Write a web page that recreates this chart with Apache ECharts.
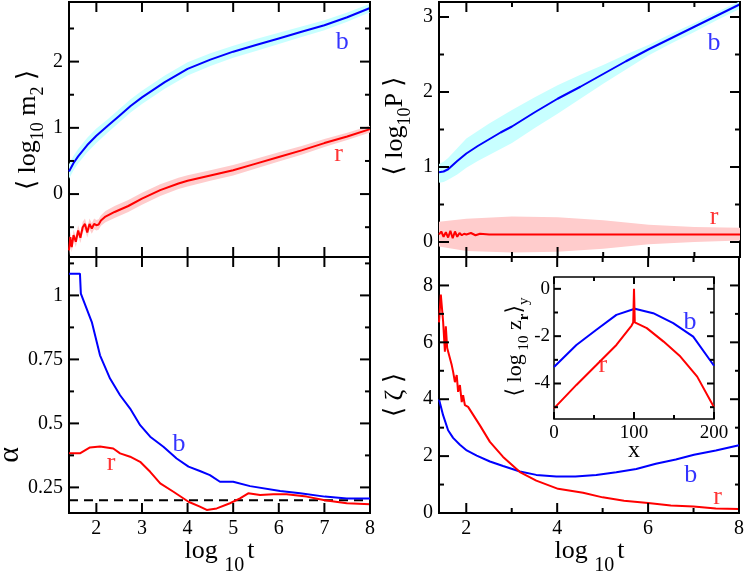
<!DOCTYPE html>
<html><head><meta charset="utf-8">
<script src="https://cdn.jsdelivr.net/npm/echarts@6/dist/echarts.min.js"></script>
<style>html,body{margin:0;padding:0;background:#fff}#c{width:747px;height:574px}</style>
</head><body><div id="c"></div>
<script>
// ---------- Panel (a): <log10 m2> ----------
const tM2b = [1.4,1.5,1.6,1.8,2.0,2.25,2.5,2.75,3.0,3.5,4.0,4.5,5.0,5.5,6.0,6.5,7.0,7.5,8.0];
const m2b  = [0.34,0.47,0.57,0.74,0.88,1.03,1.18,1.33,1.46,1.69,1.89,2.03,2.15,2.25,2.35,2.45,2.55,2.67,2.81];
const m2bW = [0.11,0.11,0.11,0.11,0.11,0.10,0.10,0.10,0.10,0.10,0.10,0.095,0.09,0.09,0.085,0.08,0.075,0.07,0.065];
const tM2r = [1.4,1.43,1.46,1.5,1.55,1.6,1.65,1.7,1.75,1.8,1.85,1.9,1.95,2.0,2.05,2.1,2.2,2.4,2.7,3.0,3.4,3.8,4.0,4.5,5.0,5.5,6.0,6.5,7.0,7.5,8.0];
const m2r  = [-0.85,-0.65,-0.8,-0.62,-0.72,-0.55,-0.66,-0.5,-0.45,-0.58,-0.45,-0.52,-0.45,-0.47,-0.46,-0.4,-0.34,-0.27,-0.18,-0.07,0.06,0.16,0.2,0.28,0.36,0.46,0.56,0.66,0.77,0.87,0.98];
const m2rW = [0.08,0.08,0.08,0.08,0.08,0.08,0.08,0.08,0.08,0.08,0.08,0.08,0.08,0.08,0.08,0.08,0.085,0.09,0.09,0.09,0.09,0.085,0.085,0.08,0.08,0.075,0.07,0.065,0.06,0.055,0.05];

// ---------- Panel (b): <log10 P> ----------
const tPb  = [1.4,1.5,1.6,1.8,2.0,2.25,2.5,2.75,3.0,3.5,4.0,4.5,5.0,5.5,6.0,6.5,7.0,7.5,8.0];
const Pb   = [0.93,0.94,0.97,1.08,1.18,1.28,1.37,1.46,1.54,1.73,1.91,2.07,2.24,2.41,2.57,2.72,2.87,3.02,3.17];
const PbLo = [0.79,0.80,0.83,0.90,0.99,1.08,1.16,1.24,1.32,1.52,1.71,1.91,2.11,2.30,2.49,2.65,2.80,2.96,3.11];
const PbHi = [1.04,1.07,1.12,1.25,1.38,1.48,1.58,1.67,1.76,1.93,2.09,2.23,2.36,2.50,2.63,2.78,2.92,3.07,3.21];
const tPr  = [1.4,1.45,1.5,1.55,1.6,1.65,1.7,1.75,1.8,1.85,1.9,1.95,2.0,2.1,2.2,2.3,2.5,3,4,5,6,7,8];
const Pr   = [0.1,0.14,0.07,0.13,0.06,0.15,0.05,0.14,0.07,0.12,0.09,0.11,0.1,0.12,0.09,0.11,0.1,0.1,0.1,0.1,0.1,0.1,0.1];
const tPrBand = [1.4,2,3,4,5,6,7,8];
const PrLo = [-0.06,-0.12,-0.14,-0.13,-0.09,-0.03,0.0,0.02];
const PrHi = [0.27,0.31,0.34,0.33,0.29,0.23,0.2,0.19];

// ---------- Panel (c): alpha ----------
const tAb = [1.4,1.64,1.66,1.9,2.08,2.3,2.52,2.74,2.96,3.18,3.47,3.76,4.02,4.27,4.49,4.71,5.0,5.37,6.03,6.47,7.01,7.49,8.0];
const Ab  = [1.085,1.085,1.007,0.896,0.766,0.675,0.61,0.558,0.493,0.448,0.409,0.363,0.331,0.314,0.298,0.272,0.272,0.255,0.236,0.227,0.214,0.207,0.207];
const tAr = [1.4,1.64,1.86,2.08,2.37,2.52,2.74,2.96,3.18,3.4,3.69,4.02,4.27,4.42,4.64,4.93,5.15,5.33,5.59,5.88,6.17,6.61,7.01,7.49,8.0];
const Ar  = [0.383,0.383,0.406,0.41,0.402,0.383,0.37,0.35,0.311,0.266,0.233,0.194,0.175,0.162,0.168,0.188,0.207,0.227,0.22,0.223,0.223,0.214,0.2,0.188,0.184];
const dashX = [1.4,8];
const dashY = [0.2,0.2];

// ---------- Panel (d): <zeta> ----------
const tZb = [1.4,1.49,1.6,1.71,1.86,2.01,2.23,2.52,2.81,3.18,3.54,3.98,4.4,4.86,5.3,5.74,6.17,6.61,7.01,7.49,8.0];
const Zb  = [4.0,3.44,2.91,2.64,2.4,2.2,2.02,1.81,1.65,1.46,1.34,1.28,1.28,1.34,1.43,1.55,1.73,1.88,2.05,2.2,2.38];
const tZr = [1.4,1.44,1.49,1.53,1.55,1.58,1.63,1.68,1.71,1.75,1.79,1.82,1.86,1.9,1.93,1.97,2.04,2.3,2.52,2.81,3.18,3.54,4.02,4.57,5.0,5.47,6.0,6.5,7.0,7.49,8.0];
const Zr  = [6.7,7.68,6.74,5.67,6.56,5.8,5.5,5.2,4.97,4.6,4.85,4.26,4.5,3.9,4.14,3.79,3.73,3.08,2.5,1.97,1.44,1.14,0.85,0.71,0.55,0.43,0.35,0.26,0.23,0.16,0.14];

// ---------- Inset: <log10 z_r>_y ----------
const xIb = [0,28,53,78,101,124,149,174,200];
const Ib  = [-3.3,-2.37,-1.73,-1.1,-0.84,-1.03,-1.45,-2.02,-3.25];
const xIr = [0,28,53,78,97,99,100,101,116,137,158,179,200];
const Ir  = [-5.05,-4.06,-3.22,-2.37,-1.55,-1.42,0,-1.42,-1.66,-2.23,-2.86,-3.71,-5.0];

// ---------- Ticks ----------
const tickX8 = [2,3,4,5,6,7,8];
const tickX2 = [2,4,6,8];
const minorX2 = [3,5,7];
const tickYm2 = [0,1,2];       const minorYm2 = [-0.5,0.5,1.5,2.5];
const tickYP = [0,1,2,3];      const minorYP = [0.5,1.5,2.5];
const tickYA = [0.25,0.5,0.75,1]; const minorYA = [0.375,0.625,0.875,1.125];
const tickYZ = [0,2,4,6,8];    const minorYZ = [1,3,5,7];
const tickXI = [0,100,200];    const minorXI = [50,150];
const tickYI = [-4,-2,0];      const minorYI = [-5,-3,-1];

// ---------- Curve tags ----------
const tags = [
  {g:0, t:'b', c:'#0000ff', x:7.39, y:2.30},
  {g:0, t:'r', c:'#ff0000', x:7.31, y:0.60},
  {g:1, t:'b', c:'#0000ff', x:7.43, y:2.65},
  {g:1, t:'r', c:'#ff0000', x:7.43, y:0.33},
  {g:2, t:'b', c:'#0000ff', x:3.81, y:0.42},
  {g:2, t:'r', c:'#ff0000', x:2.32, y:0.344},
  {g:3, t:'b', c:'#0000ff', x:6.94, y:1.32},
  {g:3, t:'r', c:'#ff0000', x:7.53, y:0.55},
  {g:4, t:'b', c:'#0000ff', x:170, y:-1.41},
  {g:4, t:'r', c:'#ff0000', x:61, y:-3.22}
];

const FONT = 'Liberation Serif, DejaVu Serif, serif';
const BLUE = '#0000ff', RED = '#ff0000', CYAN = '#c8ffff', PINK = '#ffcccc';

const grids = [
  {left:69, top:2, width:301, height:255},
  {left:439, top:2, width:301, height:255},
  {left:69, top:257, width:301, height:256},
  {left:439, top:257, width:301, height:256},
  {left:554, top:277, width:160, height:142}
];
const panelCfg = [
  {x:[1.4,8], y:[-0.95,2.9], xt:tickX8, xm:[], yt:tickYm2, ym:minorYm2, xl:false, L:10, l:5, fs:20},
  {x:[1.4,8], y:[-0.2,3.2], xt:tickX2, xm:minorX2, yt:tickYP, ym:minorYP, xl:false, L:10, l:5, fs:20},
  {x:[1.4,8], y:[0.15,1.15], xt:tickX8, xm:[], yt:tickYA, ym:minorYA, xl:true, L:10, l:5, fs:20},
  {x:[1.4,8], y:[0,9], xt:tickX2, xm:minorX2, yt:tickYZ, ym:minorYZ, xl:true, L:10, l:5, fs:20},
  {x:[0,200], y:[-5.5,0.5], xt:tickXI, xm:minorXI, yt:tickYI, ym:minorYI, xl:true, L:7, l:4, fs:19}
];

const xAxes = [], yAxes = [];
panelCfg.forEach((p,gi)=>{
  xAxes.push({type:'value', gridIndex:gi, position:'bottom', min:p.x[0], max:p.x[1],
    splitLine:{show:false}, axisLine:{show:false, onZero:false}, axisTick:{show:false},
    axisLabel: p.xl ? {show:true, customValues:p.xt, fontFamily:FONT, fontSize:p.fs, color:'#000', margin: gi===4?5:6} : {show:false}});
  yAxes.push({type:'value', gridIndex:gi, position:'left', min:p.y[0], max:p.y[1],
    splitLine:{show:false}, axisLine:{show:false, onZero:false}, axisTick:{show:false},
    axisLabel:{show:true, customValues:p.yt, fontFamily:FONT, fontSize:p.fs, color:'#000', margin: gi===4?4:6}});
});

const series = [];
function zip(xs, ys){ return xs.map((x,i)=>[x, ys[i]]); }
function line(gi, xs, ys, color, w, extra) {
  series.push(Object.assign({type:'line', xAxisIndex:gi, yAxisIndex:gi, data:zip(xs,ys),
    symbol:'none', lineStyle:{color:color, width:w}, itemStyle:{color:color}, clip:true, z:3, silent:true}, extra||{}));
}
function band(gi, xs, lo, hi, color) {
  const rows = xs.map((x,i)=>[x, lo[i], hi[i]]);
  series.push({type:'custom', xAxisIndex:gi, yAxisIndex:gi, data:rows, z:1, silent:true,
    encode:{x:0, y:[1,2]},
    renderItem:function(params, api){
      if (params.dataIndex !== 0) return null;
      const up = rows.map(r=>api.coord([r[0], r[2]]));
      const dn = rows.map(r=>api.coord([r[0], r[1]])).reverse();
      const cs = params.coordSys;
      return {type:'polygon', shape:{points: up.concat(dn)}, style:{fill:color, stroke:null},
        clipPath:{type:'rect', shape:{x:cs.x, y:cs.y, width:cs.width, height:cs.height}}};
    }});
}

band(0, tM2b, m2b.map((v,i)=>v-m2bW[i]), m2b.map((v,i)=>v+m2bW[i]), CYAN);
band(0, tM2r, m2r.map((v,i)=>v-m2rW[i]), m2r.map((v,i)=>v+m2rW[i]), PINK);
line(0, tM2b, m2b, BLUE, 2);
line(0, tM2r, m2r, RED, 2);
band(1, tPb, PbLo, PbHi, CYAN);
band(1, tPrBand, PrLo, PrHi, PINK);
line(1, tPb, Pb, BLUE, 2);
line(1, tPr, Pr, RED, 2);
line(2, dashX, dashY, '#000', 2, {lineStyle:{color:'#000', width:2, type:[9,6]}, z:2});
line(2, tAb, Ab, BLUE, 2);
line(2, tAr, Ar, RED, 2);
line(3, tZb, Zb, BLUE, 2);
line(3, tZr, Zr, RED, 2);
line(4, xIb, Ib, BLUE, 2);
line(4, xIr, Ir, RED, 2);
tags.forEach(tg=>{
  series.push({type:'scatter', xAxisIndex:tg.g, yAxisIndex:tg.g, data:[[tg.x,tg.y]],
    symbolSize:1, itemStyle:{color:'transparent'}, silent:true, z:5,
    label:{show:true, position:'inside', formatter:tg.t, fontFamily:FONT, fontSize:26, color:tg.c}});
});

const richBig = {
  m:{fontFamily:FONT, fontSize:26, lineHeight:38, verticalAlign:'middle', color:'#000'},
  s:{fontFamily:FONT, fontSize:18, lineHeight:18, verticalAlign:'bottom', color:'#000'}
};
const richX = {
  m:{fontFamily:FONT, fontSize:26, lineHeight:50, verticalAlign:'middle', color:'#000'},
  s:{fontFamily:FONT, fontSize:20, lineHeight:20, verticalAlign:'bottom', color:'#000', padding:[0,3,0,0]}
};
const richIn = {
  m:{fontFamily:FONT, fontSize:22, lineHeight:34, verticalAlign:'middle', color:'#000'},
  s:{fontFamily:FONT, fontSize:15, lineHeight:15, verticalAlign:'bottom', color:'#000'},
  sb:{fontFamily:FONT, fontSize:15, lineHeight:15, verticalAlign:'bottom', color:'#000', fontWeight:'bold'}
};
function gtext(x, y, rot, text, rich) {
  return {type:'text', x:x, y:y, rotation:rot, z:10, silent:true,
    style:{text:text, rich:rich, align:'center', verticalAlign:'middle'}};
}
const R = Math.PI/2;
const graphics = [
  gtext(28, 130, R, '{m|⟨ log}{s|10}{m| m}{s|2}{m| ⟩}', richBig),
  gtext(395, 126, R, '{m|⟨ log}{s|10}{m|P ⟩}', richBig),
  {type:'text', x:10, y:455, rotation:R, z:10, silent:true,
    style:{text:'α', fontFamily:FONT, fontSize:30, fill:'#000', align:'center', verticalAlign:'middle'}},
  gtext(395, 395, R, '{m|⟨ ζ ⟩}', richBig),
  gtext(219.5, 551, 0, '{m|log }{s|10}{m|t}', richX),
  gtext(589.5, 551, 0, '{m|log }{s|10}{m|t}', richX),
  gtext(515, 347, R, '{m|⟨ log}{s| 10}{m| z}{sb|r}{m|⟩}{s|y}', richIn),
  {type:'text', x:634, y:451, z:10, silent:true,
    style:{text:'x', fontFamily:FONT, fontSize:24, fill:'#000', align:'center', verticalAlign:'middle'}}
];

const chart = echarts.init(document.getElementById('c'), null, {renderer:'canvas'});
chart.setOption({
  animation:false,
  backgroundColor:'#fff',
  grid: grids.map((g,i)=>Object.assign({show:true, borderColor:'#000', borderWidth: i===4?1.5:2,
      backgroundColor: i===4 ? '#fff' : 'transparent', containLabel:false}, g)),
  xAxis: xAxes,
  yAxis: yAxes,
  series: series
});

// inward tick marks on all four sides, placed through the axes' scales (convertToPixel)
const tickEls = [];
panelCfg.forEach((p,gi)=>{
  const g = grids[gi];
  const x0 = g.left, x1 = g.left + g.width, y0 = g.top, y1 = g.top + g.height;
  const finder = {xAxisIndex:gi, yAxisIndex:gi};
  const st = {stroke:'#000', lineWidth:2};
  const addX = (v, len)=>{
    const px = chart.convertToPixel(finder, [v, p.y[0]])[0];
    tickEls.push({type:'line', z:100, silent:true, shape:{x1:px, y1:y1, x2:px, y2:y1-len}, style:st});
    tickEls.push({type:'line', z:100, silent:true, shape:{x1:px, y1:y0, x2:px, y2:y0+len}, style:st});
  };
  const addY = (v, len)=>{
    const py = chart.convertToPixel(finder, [p.x[0], v])[1];
    tickEls.push({type:'line', z:100, silent:true, shape:{x1:x0, y1:py, x2:x0+len, y2:py}, style:st});
    tickEls.push({type:'line', z:100, silent:true, shape:{x1:x1, y1:py, x2:x1-len, y2:py}, style:st});
  };
  p.xt.forEach(v=>addX(v, p.L));
  p.xm.forEach(v=>addX(v, p.l));
  p.yt.forEach(v=>addY(v, p.L));
  p.ym.forEach(v=>addY(v, p.l));
});
chart.setOption({graphic: graphics.concat(tickEls)});
</script></body></html>
